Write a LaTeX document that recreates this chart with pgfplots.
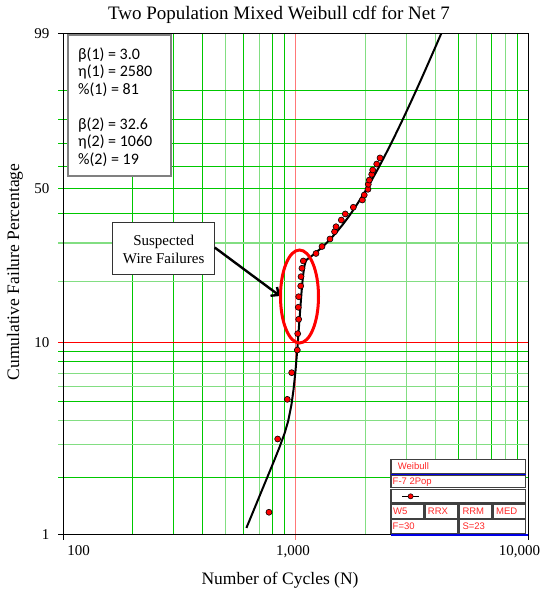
\documentclass[border=0pt]{standalone}
\usepackage{pgfplots}
\pgfplotsset{compat=1.18}
\usetikzlibrary{arrows.meta}
\usepackage{fontspec}
\setmainfont{Liberation Serif}
\newfontfamily\calibri{Carlito}
\newfontfamily\arialf{Liberation Sans}
\definecolor{gridDark}{RGB}{0,200,0}
\definecolor{gridLight}{RGB}{130,222,130}
\definecolor{redLight}{RGB}{255,120,120}
\definecolor{legred}{RGB}{255,40,40}
\definecolor{legblue}{RGB}{0,0,230}
\newcommand{\fs}[1]{\fontsize{#1}{#1}\selectfont}
\newcommand{\hg}[2]{\draw[#1] ([xshift=-5bp]axis cs:100,#2) -- (axis cs:10000,#2);}
\newcommand{\vg}[2]{\draw[#1] (axis cs:#2,-4.60015) -- (axis cs:#2,1.52718);}
\newcommand{\rr}[4]{\path (rel axis cs:#1,#2) rectangle (rel axis cs:#3,#4);}

% curve: mixed Weibull cdf, y = ln(-ln(1-F))
\pgfplotstableread{
t yv
615 -4.5137
650 -4.3480
700 -4.1260
750 -3.9193
800 -3.7255
850 -3.5400
900 -3.3470
930 -3.2059
960 -3.0112
980 -2.8291
1000 -2.5908
1020 -2.2967
1040 -1.9686
1060 -1.6523
1070 -1.5174
1080 -1.4075
1090 -1.3271
1100 -1.2753
1110 -1.2465
1120 -1.2313
1130 -1.2220
1150 -1.2064
1200 -1.1668
1300 -1.0828
1400 -0.9929
1500 -0.8983
1600 -0.8002
1700 -0.6996
1800 -0.5973
1900 -0.4941
2000 -0.3907
2100 -0.2877
2250 -0.1347
2400 0.0156
2550 0.1623
2700 0.3052
2850 0.4438
3000 0.5783
3150 0.7084
3300 0.8344
3450 0.9562
3600 1.0741
3750 1.1883
3900 1.2988
4000 1.3705
4100 1.4408
4300 1.5770
}\curvetable

% failures
\pgfplotstableread{
t yv
769 -4.322
838 -3.426
922 -2.941
963 -2.615
1018 -2.338
1022 -2.138
1032 -1.962
1028 -1.815
1032 -1.686
1053 -1.555
1056 -1.441
1066 -1.338
1080 -1.249
1225 -1.157
1300 -1.072
1407 -0.980
1472 -0.891
1494 -0.830
1574 -0.748
1637 -0.674
1773 -0.592
1938 -0.503
1976 -0.442
2050 -0.372
2056 -0.311
2077 -0.259
2127 -0.189
2148 -0.136
2235 -0.063
2309 0.011
}\pointtable

\begin{document}
\begin{tikzpicture}
\useasboundingbox (0bp,0bp) rectangle (542bp,591bp);
\begin{axis}[
  at={(63bp,56bp)}, anchor=south west,
  scale only axis, width=465bp, height=501bp,
  xmode=log, xmin=100, xmax=10000,
  ymin=-4.60015, ymax=1.52718,
  xtick=\empty, ytick=\empty,
  axis on top,
  axis line style={black, line width=1bp},
  clip mode=individual,
  legend style={draw=none, fill=none, at={(0.7284,0.0772)}, anchor=west,
    inner sep=0pt, outer sep=0pt, nodes={inner sep=0pt}},
]
% vertical grid
\vg{gridDark, line width=1bp}{200}
\vg{gridDark, line width=1bp}{300}
\vg{gridDark, line width=1bp}{400}
\vg{gridLight, line width=1.6bp}{500}
\vg{gridDark, line width=1bp}{600}
\vg{gridLight, line width=1.6bp}{700}
\vg{gridDark, line width=1bp}{800}
\vg{gridDark, line width=1bp}{900}
\vg{redLight, line width=1.4bp}{1000}
\vg{gridLight, line width=1.6bp}{2000}
\vg{gridLight, line width=1.6bp}{3000}
\vg{gridLight, line width=1.6bp}{4000}
\vg{gridDark, line width=1bp}{5000}
\vg{gridLight, line width=1.6bp}{6000}
\vg{gridDark, line width=1bp}{7000}
\vg{gridLight, line width=1.6bp}{8000}
\vg{gridDark, line width=1bp}{9000}
% horizontal grid
\hg{gridDark, line width=1bp}{0.83403}
\hg{gridDark, line width=1bp}{0.47588}
\hg{gridDark, line width=1bp}{0.18563}
\hg{gridDark, line width=1bp}{-0.08742}
\hg{gridDark, line width=1bp}{-0.36651}
\hg{gridDark, line width=1bp}{-0.67173}
\hg{gridLight, line width=1.6bp}{-1.03093}
\hg{gridLight, line width=1.6bp}{-1.49994}
\hg{red, line width=1.1bp}{-2.25037}
\hg{gridDark, line width=1bp}{-2.36116}
\hg{gridDark, line width=1bp}{-2.48433}
\hg{gridLight, line width=1.6bp}{-2.62320}
\hg{gridLight, line width=1.6bp}{-2.78263}
\hg{gridDark, line width=1bp}{-2.97020}
\hg{gridLight, line width=1.6bp}{-3.19853}
\hg{gridLight, line width=1.6bp}{-3.49137}
\hg{gridDark, line width=1bp}{-3.90194}
% black ticks
\draw[black, line width=1bp] ([xshift=-5bp]axis cs:100,1.52718) -- (axis cs:100,1.52718);
\draw[black, line width=1bp] ([xshift=-5bp]axis cs:100,-4.60015) -- (axis cs:100,-4.60015);
\draw[black, line width=1bp] ([yshift=-5bp]axis cs:100,-4.60015) -- (axis cs:100,-4.60015);
\draw[black, line width=1bp] ([yshift=-5bp]axis cs:10000,-4.60015) -- (axis cs:10000,-4.60015);
\draw[redLight, line width=1.4bp] ([yshift=-5bp]axis cs:1000,-4.60015) -- (axis cs:1000,-4.60015);

% legend block cells (drawn under the legend symbol)
\fill[white] (rel axis cs:0.70538,0) rectangle (rel axis cs:0.99570,0.151697);
\begin{scope}[every path/.style={draw=black!75, line width=1.2bp, fill=white}]
\rr{0.70538}{0.121756}{0.99505}{0.151098}
\rr{0.70538}{0.094810}{0.99505}{0.118762}
\rr{0.70538}{0.064870}{0.99505}{0.090818}
\rr{0.70538}{0.033333}{0.77634}{0.061876}
\rr{0.77957}{0.033333}{0.84839}{0.061876}
\rr{0.85161}{0.033333}{0.92258}{0.061876}
\rr{0.92581}{0.033333}{0.99505}{0.061876}
\rr{0.70538}{0.002595}{0.84839}{0.030539}
\rr{0.85161}{0.002595}{0.99505}{0.030539}
\end{scope}
\draw[legblue, line width=1.5bp] (rel axis cs:0.70538,0.120758) -- (rel axis cs:0.99570,0.120758);

\addlegendimage{black, line width=0.8bp, mark=*, mark size=2.6bp, mark options={fill=red, draw=black, line width=0.5bp}}
\addlegendentry{}

\addplot[black, line width=2bp, no marks] table[x=t, y=yv] {\curvetable};
\addplot[only marks, mark=*, mark size=3bp, mark options={fill=red, draw=black, line width=0.6bp}] table[x=t, y=yv] {\pointtable};
\end{axis}

% title and labels
\node[anchor=base] at (279bp,571bp) {\fs{19bp}Two Population Mixed Weibull cdf for Net 7};
\node[anchor=base] at (280bp,7bp) {\fs{17.5bp}Number of Cycles (N)};
\node[rotate=90] at (15bp,319bp) {\fs{17.5bp}Cumulative Failure Percentage};
% tick labels
\node[anchor=east] at (53bp,557bp) {\fs{15bp}99};
\node[anchor=east] at (53bp,402.2bp) {\fs{15bp}50};
\node[anchor=east] at (53bp,248.1bp) {\fs{15bp}10};
\node[anchor=east] at (53bp,56bp) {\fs{15bp}1};
\node[anchor=base] at (78.5bp,36bp) {\fs{15bp}100};
\node[anchor=base] at (293bp,36bp) {\fs{15bp}1,000};
\node[anchor=base] at (519.5bp,36bp) {\fs{15bp}10,000};

% parameter box
\draw[black!50, line width=1.8bp, fill=white] (68bp,415bp) rectangle (171bp,556bp);
\begin{scope}[every node/.style={anchor=base west, inner sep=0pt}]
\node at (78bp,531.7bp) {\calibri\fs{16bp}β(1) = 3.0};
\node at (78bp,514.2bp) {\calibri\fs{16bp}η(1) = 2580};
\node at (78bp,496.7bp) {\calibri\fs{16bp}\%(1) = 81};
\node at (78bp,461.7bp) {\calibri\fs{16bp}β(2) = 32.6};
\node at (78bp,444.2bp) {\calibri\fs{16bp}η(2) = 1060};
\node at (78bp,426.7bp) {\calibri\fs{16bp}\%(2) = 19};
\end{scope}

% suspected box, arrow, ellipse
\draw[black!80, line width=1bp, fill=white] (112.7bp,316.7bp) rectangle (214.7bp,368.3bp);
\node[anchor=base] at (163.7bp,345.3bp) {\fs{15bp}Suspected};
\node[anchor=base] at (163.7bp,327.7bp) {\fs{15bp}Wire Failures};
\draw[black, line width=2.4bp, -{Straight Barb[length=6bp,width=11bp]}] (214.7bp,343.5bp) -- (280bp,295bp);
\draw[red, line width=3bp] (299.5bp,294.5bp) ellipse [x radius=19bp, y radius=46.5bp];

% legend texts and bottom blue line
\draw[legblue, line width=1.5bp] (391bp,56bp) -- (528bp,56bp);
\begin{scope}[every node/.style={anchor=base west, inner sep=0pt, text=legred}]
\node at (397.7bp,121bp) {\arialf\fs{9.5bp}Weibull};
\node at (392.5bp,106bp) {\arialf\fs{9.5bp}F-7 2Pop};
\node at (393bp,76.5bp) {\arialf\fs{9.5bp}W5};
\node at (427.7bp,76.5bp) {\arialf\fs{9.5bp}RRX};
\node at (462.3bp,76.5bp) {\arialf\fs{9.5bp}RRM};
\node at (496bp,76.5bp) {\arialf\fs{9.5bp}MED};
\node at (392.5bp,61bp) {\arialf\fs{9.5bp}F=30};
\node at (462.3bp,61bp) {\arialf\fs{9.5bp}S=23};
\end{scope}
\end{tikzpicture}
\end{document}
